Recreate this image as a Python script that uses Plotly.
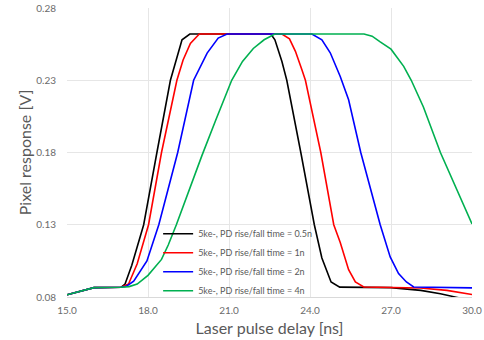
import plotly.graph_objects as go

names = [
    "5ke-, PD rise/fall time = 0.5n",
    "5ke-, PD rise/fall time = 1n",
    "5ke-, PD rise/fall time = 2n",
    "5ke-, PD rise/fall time = 4n",
]
colors = ["#000000", "#FF0000", "#0000FF", "#00B050"]

x_05n = [15.0, 16.0, 17.0, 17.15, 17.4, 17.6, 17.84, 18.33, 18.83, 19.26, 19.55,
         22.55, 22.7, 22.96, 23.14, 23.66, 24.16, 24.44, 24.78, 25.1, 27.0, 28.1, 28.83, 29.45, 30.0]
y_05n = [0.0815, 0.0865, 0.0867, 0.089, 0.102, 0.114, 0.13, 0.18, 0.23, 0.258, 0.262,
         0.262, 0.258, 0.243, 0.23, 0.18, 0.13, 0.107, 0.0904, 0.0868, 0.0865, 0.0846, 0.0823, 0.0797, 0.0775]

x_1n = [15.0, 16.0, 17.0, 17.28, 17.6, 18.02, 18.5, 19.07, 19.3, 19.57, 19.9,
        22.96, 23.24, 23.46, 23.7, 23.83, 24.4, 24.88, 25.12, 25.43, 25.68, 25.99, 28.09, 29.07, 30.0]
y_1n = [0.0815, 0.0865, 0.0867, 0.089, 0.103, 0.13, 0.18, 0.23, 0.244, 0.2555, 0.262,
        0.262, 0.2586, 0.25, 0.2373, 0.23, 0.18, 0.13, 0.1177, 0.0989, 0.0904, 0.0869, 0.0862, 0.0846, 0.0817]

x_2n = [15.0, 16.0, 17.0, 17.2, 17.47, 17.96, 18.4, 19.1, 19.69, 20.19, 20.6, 20.93,
        24.07, 24.44, 24.75, 25.12, 25.43, 25.88, 26.6, 26.97, 27.28, 27.57, 27.84, 30.0]
y_2n = [0.0815, 0.0865, 0.0867, 0.0875, 0.091, 0.105, 0.13, 0.18, 0.23, 0.2488, 0.2592, 0.262,
        0.262, 0.258, 0.249, 0.2326, 0.2165, 0.18, 0.13, 0.1077, 0.0962, 0.0904, 0.0869, 0.0863]

x_4n = [15.0, 16.0, 17.0, 17.3, 17.6, 18.0, 18.5, 18.75, 19.05, 19.5, 20.0, 20.5, 21.1, 21.5, 21.9, 22.3, 22.7,
        26.0, 26.3, 26.6, 27.0, 27.47, 27.75, 28.2, 28.83, 30.0]
y_4n = [0.0815, 0.0865, 0.0867, 0.0872, 0.089, 0.095, 0.106, 0.116, 0.13, 0.153, 0.178, 0.202, 0.23, 0.243, 0.252, 0.258, 0.262,
        0.262, 0.2605, 0.2565, 0.2515, 0.2396, 0.23, 0.2115, 0.18, 0.1305]

x_ticks = [15.0, 18.0, 21.0, 24.0, 27.0, 30.0]
y_ticks = [0.08, 0.13, 0.18, 0.23, 0.28]

series_x = [x_05n, x_1n, x_2n, x_4n]
series_y = [y_05n, y_1n, y_2n, y_4n]

fig = go.Figure()
for n, c, xs, ys in zip(names, colors, series_x, series_y):
    fig.add_trace(go.Scatter(x=xs, y=ys, mode="lines", name=n,
                             line=dict(color=c, width=1.6)))

axis_font = dict(family="Lato, 'Open Sans', sans-serif", size=10, color="#6b6b6b")
fig.update_layout(
    width=484, height=340,
    margin=dict(l=67, r=12, t=8, b=43),
    paper_bgcolor="white", plot_bgcolor="white",
    font=dict(family="Lato, 'Open Sans', sans-serif", color="#595959"),
    xaxis=dict(range=[15, 30], tickvals=x_ticks, ticktext=[f"{v:.1f}" for v in x_ticks],
               showgrid=True, gridcolor="#e6e6e6", gridwidth=1, zeroline=False,
               showline=True, linecolor="#d9d9d9", tickfont=axis_font, ticks="",
               ticklabelstandoff=4, ticklabeloverflow="allow", automargin=False,
               title=dict(text="Laser pulse delay [ns]", font=dict(size=16, color="#595959"), standoff=7)),
    yaxis=dict(range=[0.08, 0.28], tickvals=y_ticks, ticktext=[f"{v:.2f}" for v in y_ticks],
               showgrid=True, gridcolor="#e6e6e6", gridwidth=1, zeroline=False,
               showline=False, tickfont=axis_font, ticks="",
               ticklabelstandoff=10, automargin=False,
               title=dict(text="Pixel response [V]", font=dict(size=16, color="#595959"), standoff=0)),
    legend=dict(x=0.225, y=0.269, xanchor="left", yanchor="top", bgcolor="rgba(0,0,0,0)",
                font=dict(family="Lato, sans-serif", size=9, color="#595959"),
                itemwidth=30, tracegroupgap=0),
    showlegend=True,
)

fig.write_html("out.html", config={"displayModeBar": False},
               post_script="document.body.style.margin='0';document.body.style.padding='0';")
